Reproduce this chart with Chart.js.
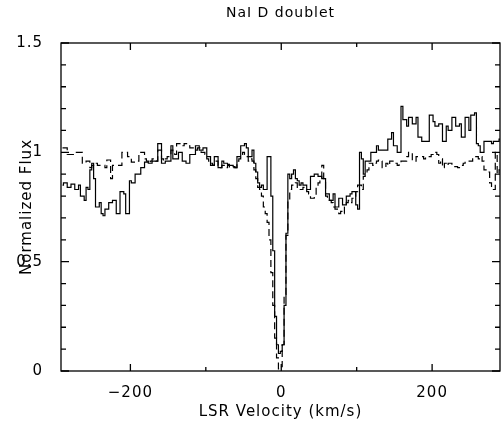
<!DOCTYPE html>
<html>
<head>
<meta charset="utf-8">
<script src="https://cdn.jsdelivr.net/npm/chart.js@4.4.0/dist/chart.umd.min.js"></script>
<style>
  body { margin: 0; background: #fff; }
  #wrap { width: 501px; height: 424px; }
</style>
</head>
<body>
<div id="wrap"><canvas id="myChart" width="501" height="424"></canvas></div>
<script>
// velocity grid, 2.5 km/s bins
const velocity = [
  -290, -287.5, -285, -282.5, -280, -277.5, -275, -272.5, -270, -267.5, -265, -262.5, -260, -257.5, -255, -252.5, -250, -247.5, -245, -242.5,
  -240, -237.5, -235, -232.5, -230, -227.5, -225, -222.5, -220, -217.5, -215, -212.5, -210, -207.5, -205, -202.5, -200, -197.5, -195, -192.5,
  -190, -187.5, -185, -182.5, -180, -177.5, -175, -172.5, -170, -167.5, -165, -162.5, -160, -157.5, -155, -152.5, -150, -147.5, -145, -142.5,
  -140, -137.5, -135, -132.5, -130, -127.5, -125, -122.5, -120, -117.5, -115, -112.5, -110, -107.5, -105, -102.5, -100, -97.5, -95, -92.5,
  -90, -87.5, -85, -82.5, -80, -77.5, -75, -72.5, -70, -67.5, -65, -62.5, -60, -57.5, -55, -52.5, -50, -47.5, -45, -42.5,
  -40, -37.5, -35, -32.5, -30, -27.5, -25, -22.5, -20, -17.5, -15, -12.5, -10, -7.5, -5, -2.5, 0, 2.5, 5, 7.5,
  10, 12.5, 15, 17.5, 20, 22.5, 25, 27.5, 30, 32.5, 35, 37.5, 40, 42.5, 45, 47.5, 50, 52.5, 55, 57.5,
  60, 62.5, 65, 67.5, 70, 72.5, 75, 77.5, 80, 82.5, 85, 87.5, 90, 92.5, 95, 97.5, 100, 102.5, 105, 107.5,
  110, 112.5, 115, 117.5, 120, 122.5, 125, 127.5, 130, 132.5, 135, 137.5, 140, 142.5, 145, 147.5, 150, 152.5, 155, 157.5,
  160, 162.5, 165, 167.5, 170, 172.5, 175, 177.5, 180, 182.5, 185, 187.5, 190, 192.5, 195, 197.5, 200, 202.5, 205, 207.5,
  210, 212.5, 215, 217.5, 220, 222.5, 225, 227.5, 230, 232.5, 235, 237.5, 240, 242.5, 245, 247.5, 250, 252.5, 255, 257.5,
  260, 262.5, 265, 267.5, 270, 272.5, 275, 277.5, 280, 282.5, 285, 287.5, 290]

// solid line
const fluxSolid = [
  0.85, 0.86, 0.86, 0.84, 0.84, 0.855, 0.855, 0.83, 0.83, 0.85, 0.80, 0.80, 0.78, 0.84, 0.83, 0.92, 0.95, 0.88, 0.75, 0.75,
  0.77, 0.72, 0.71, 0.74, 0.74, 0.77, 0.77, 0.78, 0.78, 0.72, 0.72, 0.82, 0.82, 0.81, 0.72, 0.72, 0.87, 0.86, 0.86, 0.90,
  0.90, 0.90, 0.93, 0.93, 0.955, 0.955, 0.95, 0.95, 0.96, 0.96, 0.96, 1.04, 1.04, 0.95, 0.95, 0.96, 0.96, 0.96, 1.03, 0.97,
  0.97, 0.97, 1.00, 1.00, 0.96, 0.96, 0.95, 0.95, 0.99, 0.99, 0.99, 1.03, 1.03, 1.01, 1.01, 1.02, 1.02, 0.98, 0.98, 0.94,
  0.94, 0.98, 0.98, 0.93, 0.93, 0.96, 0.95, 0.95, 0.945, 0.94, 0.94, 0.935, 0.93, 0.98, 0.98, 1.03, 1.03, 1.04, 1.02, 0.98,
  0.98, 1.01, 0.95, 0.91, 0.86, 0.84, 0.85, 0.83, 0.83, 0.98, 0.98, 0.80, 0.55, 0.25, 0.12, 0.08, 0.09, 0.12, 0.30, 0.63,
  0.90, 0.88, 0.90, 0.92, 0.88, 0.87, 0.85, 0.86, 0.85, 0.85, 0.83, 0.83, 0.89, 0.89, 0.90, 0.90, 0.89, 0.89, 0.88, 0.88,
  0.81, 0.81, 0.78, 0.78, 0.81, 0.75, 0.75, 0.79, 0.79, 0.76, 0.76, 0.80, 0.80, 0.81, 0.82, 0.82, 0.76, 0.74, 1.00, 0.97,
  0.90, 0.96, 0.96, 0.96, 1.00, 1.00, 1.00, 1.03, 1.01, 1.01, 1.01, 1.01, 1.01, 1.06, 1.06, 1.09, 1.03, 1.03, 1.00, 1.00,
  1.21, 1.15, 1.15, 1.12, 1.16, 1.16, 1.13, 1.13, 1.16, 1.07, 1.07, 1.05, 1.05, 1.05, 1.05, 1.17, 1.17, 1.14, 1.12, 1.12,
  1.13, 1.13, 1.05, 1.05, 1.12, 1.10, 1.10, 1.16, 1.16, 1.12, 1.12, 1.13, 1.07, 1.07, 1.16, 1.16, 1.10, 1.17, 1.17, 1.18,
  1.04, 1.03, 1.00, 1.00, 1.05, 1.05, 1.05, 1.05, 1.04, 1.05, 1.05, 1.05, 1.06]

// dashed line
const fluxDashed = [
  1.02, 1.02, 1.02, 0.99, 0.99, 0.99, 0.99, 1.00, 1.00, 1.00, 1.00, 0.95, 0.95, 0.96, 0.96, 0.93, 0.94, 0.95, 0.95, 0.94,
  0.94, 0.94, 0.94, 0.93, 0.965, 0.965, 0.88, 0.94, 0.94, 0.94, 0.94, 0.94, 1.00, 1.00, 1.00, 0.98, 0.98, 0.955, 0.955, 0.955,
  0.96, 1.00, 1.00, 1.00, 0.97, 0.96, 0.95, 0.96, 0.97, 0.97, 0.96, 1.01, 1.01, 0.97, 0.96, 0.97, 0.98, 0.98, 1.01, 1.00,
  0.99, 1.04, 1.04, 1.04, 1.03, 1.04, 1.04, 1.03, 1.02, 1.02, 1.02, 1.01, 1.02, 1.02, 1.00, 1.00, 0.99, 0.97, 0.96, 0.95,
  0.94, 0.95, 0.96, 0.94, 0.93, 0.94, 0.94, 0.93, 0.94, 0.93, 0.93, 0.93, 0.93, 0.96, 0.97, 0.99, 1.00, 0.99, 0.98, 0.96,
  0.97, 0.96, 0.92, 0.88, 0.84, 0.83, 0.80, 0.75, 0.72, 0.68, 0.60, 0.45, 0.30, 0.15, 0.06, 0.01, 0.02, 0.12, 0.35, 0.62,
  0.78, 0.83, 0.85, 0.85, 0.86, 0.84, 0.83, 0.83, 0.84, 0.83, 0.82, 0.81, 0.79, 0.79, 0.80, 0.85, 0.86, 0.88, 0.94, 0.88,
  0.80, 0.78, 0.78, 0.77, 0.75, 0.74, 0.74, 0.72, 0.73, 0.72, 0.75, 0.77, 0.78, 0.77, 0.79, 0.80, 0.82, 0.85, 0.85, 0.83,
  0.89, 0.90, 0.92, 0.95, 0.95, 0.94, 0.95, 0.96, 0.965, 0.96, 0.93, 0.93, 0.95, 0.94, 0.96, 0.96, 0.96, 0.95, 0.94, 0.95,
  0.96, 0.96, 0.96, 0.98, 1.00, 1.00, 0.96, 0.96, 0.98, 0.98, 0.98, 0.98, 0.97, 0.98, 0.98, 0.98, 0.99, 1.00, 1.00, 0.99,
  0.95, 0.97, 0.93, 0.95, 0.94, 0.95, 0.95, 0.94, 0.935, 0.935, 0.93, 0.935, 0.94, 0.95, 0.96, 0.96, 0.96, 0.96, 0.98, 0.98,
  0.98, 0.97, 0.98, 0.96, 0.92, 0.92, 0.91, 0.86, 0.84, 0.83, 1.00, 0.90, 0.92]

const xLabels = [-200, 0, 200]
const yLabels = [0, 0.5, 1, 1.5]

const FONT = 'DejaVu Sans'

function toPoints(ys) {
  return velocity.map((v, i) => ({ x: v, y: ys[i] }))
}

// wider lettering, closer to the plotting package's font
const wideText = {
  id: 'wideText',
  beforeDraw(chart) { chart.ctx.letterSpacing = '1px' }
}

// frame + inward ticks on all four sides
const frameTicks = {
  id: 'frameTicks',
  afterDatasetsDraw(chart) {
    const ctx = chart.ctx
    const a = chart.chartArea
    const xs = chart.scales.x
    const ys = chart.scales.y
    ctx.save()
    ctx.strokeStyle = '#000'
    ctx.lineWidth = 1.3
    ctx.strokeRect(a.left, a.top, a.right - a.left, a.bottom - a.top)
    ctx.beginPath()
    xs.ticks.forEach(t => {
      const px = xs.getPixelForValue(t.value)
      const len = xLabels.includes(t.value) ? 7 : 4
      ctx.moveTo(px, a.bottom); ctx.lineTo(px, a.bottom - len)
      ctx.moveTo(px, a.top); ctx.lineTo(px, a.top + len)
    })
    ys.ticks.forEach(t => {
      const py = ys.getPixelForValue(t.value)
      const major = yLabels.some(l => Math.abs(l - t.value) < 1e-6)
      const len = major ? 8 : 5
      ctx.moveTo(a.left, py); ctx.lineTo(a.left + len, py)
      ctx.moveTo(a.right, py); ctx.lineTo(a.right - len, py)
    })
    ctx.stroke()
    ctx.restore()
  }
}

let ctx = document.getElementById('myChart').getContext('2d');
let chart = new Chart(ctx, {
  type: 'line',
  data: {
    datasets: [{
      label: 'solid',
      data: toPoints(fluxSolid),
      borderColor: '#000',
      borderWidth: 1.2,
      pointRadius: 0,
      stepped: 'middle',
      fill: false
    }, {
      label: 'dashed',
      data: toPoints(fluxDashed),
      borderColor: '#000',
      borderWidth: 1.2,
      borderDash: [7, 4],
      pointRadius: 0,
      stepped: 'middle',
      fill: false
    }]
  },
  options: {
    responsive: false,
    animation: false,
    devicePixelRatio: 1,
    layout: { padding: { left: 0, right: 1, top: 0, bottom: 0 } },
    plugins: {
      legend: { display: false },
      tooltip: { enabled: false },
      title: {
        display: true,
        text: 'NaI D doublet',
        fullSize: false,
        color: '#000',
        font: { family: FONT, size: 14, weight: 'normal' },
        padding: { top: 4.6, bottom: 21.6 }
      }
    },
    scales: {
      x: {
        type: 'linear',
        min: -292,
        max: 290,
        grid: { display: false },
        border: { display: false },
        ticks: {
          stepSize: 100,
          includeBounds: false,
          autoSkip: false,
          maxRotation: 0,
          padding: 5,
          color: '#000',
          font: { family: FONT, size: 15 },
          callback: v => xLabels.includes(v) ? String(v).replace('-', '\u2212') : ''
        },
        title: {
          display: true,
          text: 'LSR Velocity (km/s)',
          color: '#000',
          font: { family: FONT, size: 15 },
          padding: { top: 0, bottom: 3 }
        },
        afterFit(scale) { scale.height = 53 }
      },
      y: {
        type: 'linear',
        min: 0,
        max: 1.5,
        grid: { display: false },
        border: { display: false },
        ticks: {
          stepSize: 0.1,
          autoSkip: false,
          padding: 10,
          color: '#000',
          font: { family: FONT, size: 15 },
          callback: v => yLabels.some(l => Math.abs(l - v) < 1e-6) ? String(Math.round(v * 10) / 10) : ''
        },
        title: {
          display: true,
          text: 'Normalized Flux',
          color: '#000',
          font: { family: FONT, size: 15 },
          padding: { top: 18, bottom: 0 }
        },
        afterFit(scale) { scale.width = 61 }
      }
    }
  },
  plugins: [wideText, frameTicks]
});
</script>
</body>
</html>
